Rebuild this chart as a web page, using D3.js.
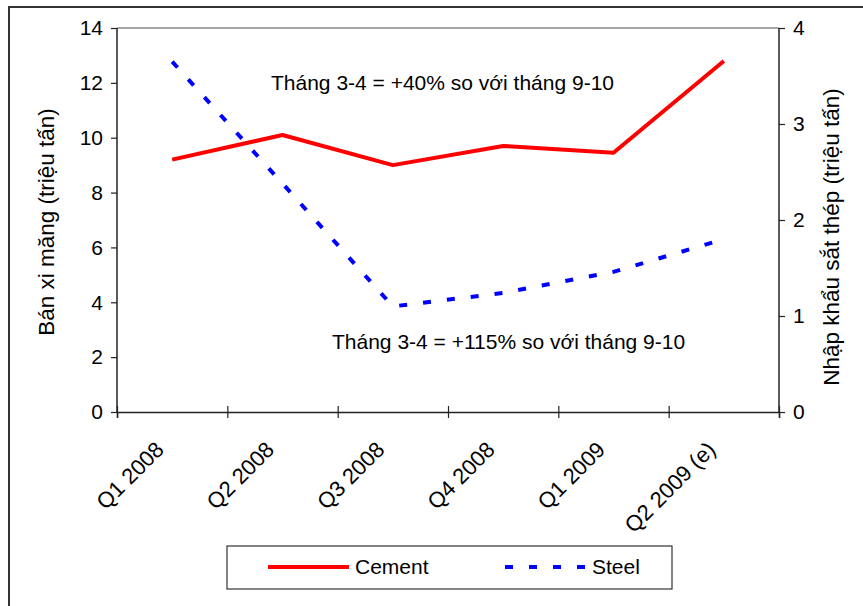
<!DOCTYPE html>
<html><head><meta charset="utf-8">
<script src="https://cdn.jsdelivr.net/npm/d3@7"></script>
<style>body{margin:0;background:#fff}svg{display:block;font-family:"Liberation Sans",Arial,sans-serif}</style>
</head><body>
<script>
const categories = ["Q1 2008","Q2 2008","Q3 2008","Q4 2008","Q1 2009","Q2 2009 (e)"];
const cementValues = [9.2, 10.1, 9.0, 9.7, 9.45, 12.8];
const steelValues = [3.65, 2.38, 1.1, 1.24, 1.46, 1.8];
const leftTicks = [0,2,4,6,8,10,12,14];
const rightTicks = [0,1,2,3,4];
const leftTitle = "Bán xi măng (triệu tấn)";
const rightTitle = "Nhập khẩu sắt thép (triệu tấn)";
const note1 = "Tháng 3-4 = +40% so với tháng 9-10";
const note2 = "Tháng 3-4 = +115% so với tháng 9-10";
const seriesNames = ["Cement","Steel"];

const W=863,H=606, L=117, R=779, T=28, B=412, FS=21, FT=22.5, FC=22;
const svg=d3.select("body").append("svg").attr("width",W).attr("height",H);
svg.append("rect").attr("x",9).attr("y",7).attr("width",900).attr("height",700)
  .attr("fill","#fff").attr("stroke","#333").attr("stroke-width",2);

const x=d3.scaleBand().domain(categories).range([L,R]);
const yL=d3.scaleLinear().domain([0,14]).range([B,T]);
const yR=d3.scaleLinear().domain([0,4]).range([B,T]);

svg.append("line").attr("x1",L).attr("x2",R).attr("y1",T).attr("y2",T).attr("stroke","#888").attr("stroke-width",1.5);

const gl=svg.append("g").attr("transform",`translate(${L},0)`)
  .call(d3.axisLeft(yL).tickValues(leftTicks).tickSize(6).tickPadding(8));
const gr=svg.append("g").attr("transform",`translate(${R},0)`)
  .call(d3.axisRight(yR).tickValues(rightTicks).tickFormat(d3.format("d")).tickSize(6).tickPadding(8));
const gx=svg.append("g").attr("transform",`translate(0,${B})`)
  .call(d3.axisBottom(d3.scaleLinear().domain([0,categories.length]).range([L,R]))
    .tickValues(d3.range(categories.length+1)).tickSize(6).tickFormat(""));
gx.selectAll(".tick line").attr("y1",-6);
[gl,gr,gx].forEach(g=>{
  g.selectAll(".domain").attr("stroke","#222").attr("stroke-width",1.5);
  g.selectAll(".tick line").attr("stroke","#222").attr("stroke-width",1.2);
  g.selectAll("text").attr("font-size",FS).attr("fill","#000").attr("font-family","Liberation Sans, Arial, sans-serif");
});
gl.select(".domain").attr("d",`M0,${T}V${B}`);
gr.select(".domain").attr("d",`M0,${T}V${B}`);

svg.append("g").selectAll("text").data(categories).join("text")
  .attr("transform",d=>`translate(${x(d)+x.bandwidth()/2-7},${B+39}) rotate(-45)`)
  .attr("text-anchor","end").attr("font-size",FC).text(d=>d);

svg.append("text").attr("transform",`translate(${54},${(T+B)/2+2}) rotate(-90)`)
  .attr("text-anchor","middle").attr("font-size",FT).text(leftTitle);
svg.append("text").attr("transform",`translate(${839},${(T+B)/2+17}) rotate(-90)`)
  .attr("text-anchor","middle").attr("font-size",FT).text(rightTitle);

const cx=d=>x(d)+x.bandwidth()/2;
svg.append("path").datum(cementValues.map((v,i)=>[cx(categories[i]),yL(v)]))
  .attr("d",d3.line()).attr("fill","none").attr("stroke","#ff0000").attr("stroke-width",4).attr("stroke-linejoin","round");
svg.append("path").datum(steelValues.map((v,i)=>[cx(categories[i]),yR(v)]))
  .attr("d",d3.line()).attr("fill","none").attr("stroke","#0000ff").attr("stroke-width",4).attr("stroke-dasharray","8,16");

svg.append("text").attr("x",271).attr("y",90).attr("font-size",FS).text(note1);
svg.append("text").attr("x",332).attr("y",349).attr("font-size",FS).text(note2);

svg.append("rect").attr("x",227).attr("y",546).attr("width",445).attr("height",43)
  .attr("fill","#fff").attr("stroke","#333").attr("stroke-width",1.2);
svg.append("line").attr("x1",268).attr("x2",349).attr("y1",567).attr("y2",567).attr("stroke","#ff0000").attr("stroke-width",4);
svg.append("text").attr("x",355).attr("y",574).attr("font-size",FS).text(seriesNames[0]);
svg.append("line").attr("x1",505).attr("x2",588).attr("y1",567).attr("y2",567).attr("stroke","#0000ff").attr("stroke-width",4).attr("stroke-dasharray","8,16");
svg.append("text").attr("x",592).attr("y",574).attr("font-size",FS).text(seriesNames[1]);
</script>
</body></html>
